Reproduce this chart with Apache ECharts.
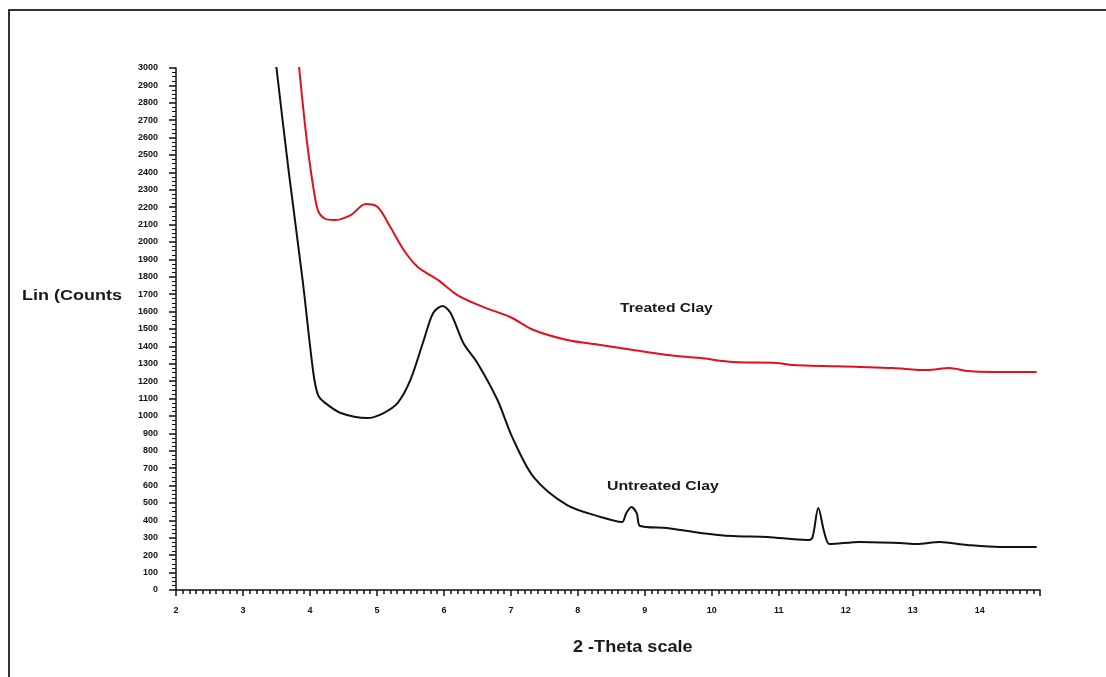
<!DOCTYPE html>
<html>
<head>
<meta charset="utf-8">
<script src="https://cdn.jsdelivr.net/npm/echarts@6/dist/echarts.min.js"></script>
<style>
  html, body { margin: 0; padding: 0; background: #fff; }
  #chart { width: 1106px; height: 677px; }
</style>
</head>
<body>
<div id="chart"></div>
<script>
// XRD pattern, 2-theta vs counts
const untreatedX = [3.49, 3.68, 3.89, 4.05, 4.12, 4.21, 4.46, 4.86, 5.10, 5.31, 5.50, 5.70, 5.84, 5.98, 6.10, 6.29, 6.50, 6.80, 7.02, 7.34, 7.84, 8.34, 8.66, 8.72, 8.80, 8.88, 8.93, 9.33, 9.83, 10.32, 10.83, 11.42, 11.50, 11.59, 11.68, 11.76, 12.21, 12.81, 13.06, 13.40, 13.81, 14.30, 14.85];
const untreatedY = [3034, 2414, 1782, 1250, 1121, 1080, 1017, 988, 1017, 1075, 1207, 1437, 1592, 1632, 1592, 1420, 1305, 1092, 879, 649, 488, 420, 391, 440, 477, 440, 368, 356, 328, 310, 305, 287, 300, 471, 330, 264, 276, 270, 264, 276, 259, 247, 247];

const treatedX = [3.83, 3.94, 4.04, 4.12, 4.22, 4.36, 4.61, 4.83, 5.01, 5.20, 5.40, 5.61, 5.91, 6.20, 6.59, 6.99, 7.34, 7.84, 8.34, 8.83, 9.33, 9.83, 10.32, 10.97, 11.21, 12.21, 12.70, 13.21, 13.55, 13.81, 14.19, 14.85];
const treatedY = [3034, 2626, 2339, 2180, 2135, 2126, 2155, 2218, 2201, 2086, 1954, 1856, 1782, 1695, 1626, 1569, 1494, 1437, 1408, 1379, 1351, 1333, 1310, 1305, 1293, 1282, 1276, 1264, 1276, 1259, 1253, 1253];

const font = 'Liberation Sans, Arial, sans-serif';
const pairs = (xs, ys) => xs.map((x, i) => [x, ys[i]]);

// reference text is horizontally stretched, so scale it a bit
const label = (text, x, y, size, sx) => ({
    type: 'text', x: x, y: y, scaleX: sx,
    style: { text: text, font: 'bold ' + size + 'px ' + font, fill: '#1a1a1a', textVerticalAlign: 'middle' }
});

const chart = echarts.init(document.getElementById('chart'));
const option = {
    animation: false,
    backgroundColor: '#fff',
    grid: { left: 176, right: 66, top: 68, bottom: 87 },
    xAxis: {
        type: 'value',
        min: 2,
        max: 14.9,
        interval: 1,
        splitLine: { show: false },
        axisLine: { lineStyle: { color: '#111', width: 1.5 } },
        axisTick: { length: 6, lineStyle: { color: '#111', width: 1.5 } },
        minorTick: { show: true, splitNumber: 10, length: 4, lineStyle: { color: '#111', width: 1.5 } },
        axisLabel: {
            color: '#111', fontFamily: font, fontWeight: 'bold', fontSize: 9, margin: 16,
            showMaxLabel: false,
            formatter: v => (Number.isInteger(v) ? String(v) : '')
        }
    },
    yAxis: {
        type: 'value',
        min: 0,
        max: 3000,
        interval: 100,
        splitLine: { show: false },
        axisLine: { show: true, lineStyle: { color: '#111', width: 1.5 } },
        axisTick: { show: true, length: 7, lineStyle: { color: '#111', width: 1.5 } },
        minorTick: { show: true, splitNumber: 4, length: 4, lineStyle: { color: '#111', width: 1 } },
        axisLabel: {
            color: '#111', fontFamily: font, fontWeight: 'bold', fontSize: 9, margin: 18,
            formatter: v => String(v)
        }
    },
    series: [
        {
            name: 'Treated Clay',
            type: 'line',
            data: pairs(treatedX, treatedY),
            showSymbol: false,
            smooth: 0.3,
            lineStyle: { color: '#e3101c', width: 2 }
        },
        {
            name: 'Untreated Clay',
            type: 'line',
            data: pairs(untreatedX, untreatedY),
            showSymbol: false,
            smooth: 0.3,
            lineStyle: { color: '#111', width: 2 }
        }
    ],
    graphic: [
        { type: 'rect', shape: { x: 9, y: 10, width: 1110, height: 700 }, style: { fill: null, stroke: '#333', lineWidth: 2 }, silent: true },
        label('Lin (Counts', 22, 296, 15, 1.2),
        label('Treated Clay', 620, 309, 12, 1.3),
        label('Untreated Clay', 607, 487, 12, 1.32),
        label('2 -Theta scale', 573, 648, 16, 1.13)
    ]
};
chart.setOption(option);
</script>
</body>
</html>
